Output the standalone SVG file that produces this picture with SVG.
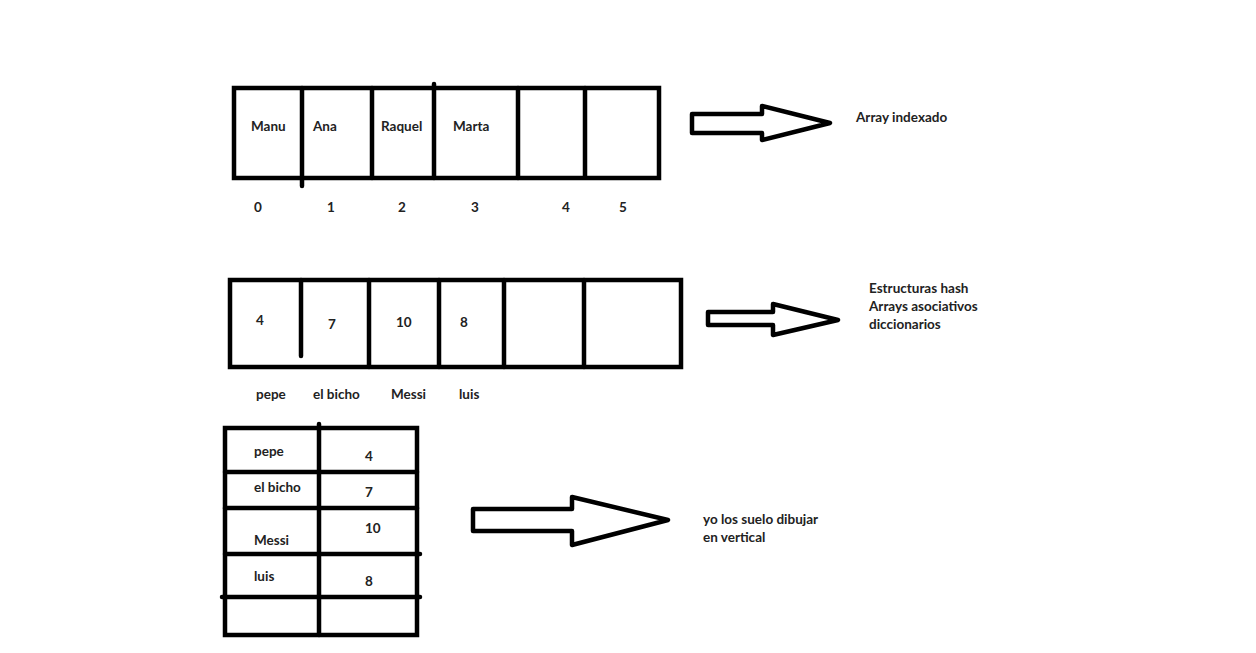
<svg xmlns="http://www.w3.org/2000/svg" width="1256" height="653" viewBox="0 0 1256 653">
<style>
.ln{stroke:#000;stroke-width:4.5;fill:none;stroke-linecap:round}
.bx{stroke:#000;stroke-width:4.5;fill:#fff}
.t{font-family:"Lato","Liberation Sans",sans-serif;font-weight:bold;font-size:13.5px;fill:#222}
.ar{stroke:#000;stroke-width:4.5;fill:#fff;stroke-linejoin:round}
</style>
<rect width="1256" height="653" fill="#fff"/>
<g id="array-indexado">
<rect class="bx" x="234" y="88" width="425" height="90"/>
<line class="ln" x1="302" y1="88" x2="302" y2="186"/>
<line class="ln" x1="372" y1="88" x2="372" y2="178"/>
<line class="ln" x1="434" y1="84" x2="434" y2="178"/>
<line class="ln" x1="518" y1="88" x2="518" y2="178"/>
<line class="ln" x1="585" y1="88" x2="585" y2="176"/>
<text class="t" x="251" y="131">Manu</text>
<text class="t" x="313" y="131">Ana</text>
<text class="t" x="381" y="131">Raquel</text>
<text class="t" x="453" y="131">Marta</text>
<text class="t" x="254" y="212">0</text>
<text class="t" x="327" y="212">1</text>
<text class="t" x="398" y="212">2</text>
<text class="t" x="471" y="212">3</text>
<text class="t" x="562" y="212">4</text>
<text class="t" x="619" y="212">5</text>
</g>
<g id="array-hash">
<rect class="bx" x="230" y="280" width="451" height="87"/>
<line class="ln" x1="301" y1="280" x2="301" y2="356"/>
<line class="ln" x1="369" y1="280" x2="369" y2="367"/>
<line class="ln" x1="439" y1="280" x2="439" y2="367"/>
<line class="ln" x1="504" y1="280" x2="504" y2="367"/>
<line class="ln" x1="584" y1="280" x2="584" y2="367"/>
<text class="t" x="256" y="325">4</text>
<text class="t" x="328" y="329">7</text>
<text class="t" x="396" y="327">10</text>
<text class="t" x="460" y="327">8</text>
<text class="t" x="256" y="399">pepe</text>
<text class="t" x="313" y="399">el bicho</text>
<text class="t" x="391" y="399">Messi</text>
<text class="t" x="459" y="399">luis</text>
</g>
<g id="tabla-vertical">
<rect class="bx" x="225" y="428" width="192" height="207"/>
<line class="ln" x1="319" y1="424" x2="319" y2="635"/>
<line class="ln" x1="225" y1="472" x2="417" y2="472"/>
<line class="ln" x1="225" y1="508" x2="417" y2="508"/>
<line class="ln" x1="225" y1="554" x2="420" y2="554"/>
<line class="ln" x1="222" y1="597" x2="420" y2="597"/>
<text class="t" x="254" y="456">pepe</text>
<text class="t" x="365" y="461">4</text>
<text class="t" x="254" y="492">el bicho</text>
<text class="t" x="365" y="497">7</text>
<text class="t" x="365" y="533">10</text>
<text class="t" x="254" y="545">Messi</text>
<text class="t" x="254" y="581">luis</text>
<text class="t" x="365" y="586">8</text>
</g>
<g id="connectors">
<polygon class="ar" points="692,114 762,114 762,106 830,123 762,140 762,133 692,133"/>
<polygon class="ar" points="708,312 773,312 773,304 838,320 773,335 773,325 708,325"/>
<polygon class="ar" points="473,509 572,509 572,497 668,520 572,545 572,531 473,531"/>
</g>
<g id="label-indexado">
<text class="t" x="856" y="122">Array indexado</text>
</g>
<g id="label-hash">
<text class="t" x="869" y="293">Estructuras hash</text>
<text class="t" x="869" y="311">Arrays asociativos</text>
<text class="t" x="869" y="329">diccionarios</text>
</g>
<g id="label-vertical">
<text class="t" x="703" y="524">yo los suelo dibujar</text>
<text class="t" x="703" y="542">en vertical</text>
</g>
</svg>
